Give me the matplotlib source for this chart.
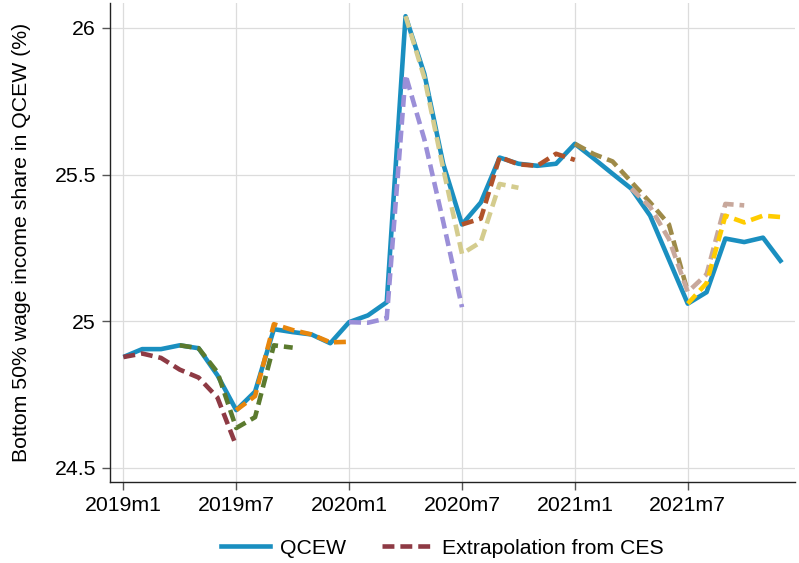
import matplotlib
matplotlib.use("Agg")
import matplotlib.pyplot as plt
from matplotlib.lines import Line2D

plt.rcParams["font.family"] = ["Liberation Sans", "DejaVu Sans"]

TICK_MONTHS = [0, 6, 12, 18, 24, 30]
TICK_LABELS = ["2019m1", "2019m7", "2020m1", "2020m7", "2021m1", "2021m7"]
Y_TICKS = [24.5, 25, 25.5, 26]
Y_TICK_LABELS = ["24.5", "25", "25.5", "26"]

# monthly QCEW series, 2019m1 .. 2021m12
qcew = [
    24.878, 24.905, 24.905, 24.918, 24.908, 24.816,
    24.697, 24.760, 24.973, 24.963, 24.955, 24.925,
    24.997, 25.020, 25.065, 26.040, 25.843, 25.537,
    25.330, 25.405, 25.558, 25.537, 25.530, 25.537,
    25.605, 25.555, 25.503, 25.452, 25.360, 25.210,
    25.060, 25.099, 25.282, 25.270, 25.285, 25.200,
]

# extrapolations from CES: (start month index, values, colour)
ext_starts = [0, 3, 6, 12, 15, 18, 24, 27, 30]
ext_values = [
    [24.878, 24.890, 24.875, 24.835, 24.808, 24.740, 24.575],
    [24.918, 24.908, 24.826, 24.636, 24.673, 24.918, 24.910],
    [24.697, 24.745, 24.990, 24.970, 24.955, 24.928, 24.930],
    [24.997, 24.995, 25.010, 25.840, 25.620, 25.340, 25.048],
    [26.040, 25.830, 25.520, 25.230, 25.270, 25.468, 25.455],
    [25.330, 25.350, 25.560, 25.535, 25.530, 25.571, 25.550],
    [25.605, 25.570, 25.545, 25.475, 25.405, 25.330, 25.100],
    [25.452, 25.390, 25.280, 25.100, 25.160, 25.400, 25.395],
    [25.060, 25.130, 25.360, 25.337, 25.360, 25.355],
]
ext_colors = [
    "#8E3A44", "#5B7A2E", "#E8860C", "#9B8FD8", "#D4CC8E",
    "#B0522A", "#9E8A48", "#C8A89C", "#FFCC00",
]

QCEW_COLOR = "#1A8FC0"
GRID_COLOR = "#DCDCDC"
DASH = (0, (2.6, 1.3))
LW = 3.3
FS = 15.3

fig = plt.figure(figsize=(7.99, 5.63), dpi=100)
ax = fig.add_axes([110 / 799, 1 - 482 / 563, 685 / 799, 479 / 563])

months = list(range(len(qcew)))
ax.plot(months, qcew, color=QCEW_COLOR, linewidth=LW, solid_capstyle="butt", zorder=3)

for start, vals, col in zip(ext_starts, ext_values, ext_colors):
    xs = list(range(start, start + len(vals)))
    ax.plot(xs, vals, color=col, linewidth=LW, linestyle=DASH,
            dash_capstyle="butt", zorder=4)

ax.set_xlim(-0.71, 35.7)
ax.set_ylim(24.452, 26.085)

ax.set_xticks(TICK_MONTHS)
ax.set_xticklabels(TICK_LABELS, fontsize=FS)
ax.set_yticks(Y_TICKS)
ax.set_yticklabels(Y_TICK_LABELS, fontsize=FS)
ax.tick_params(axis="both", direction="out", length=6, width=1.0, color="#555555", pad=4)
ax.grid(True, color=GRID_COLOR, linewidth=0.9, zorder=0)
ax.set_axisbelow(True)

for side in ["top", "right"]:
    ax.spines[side].set_visible(False)
for side in ["left", "bottom"]:
    ax.spines[side].set_linewidth(1.0)
    ax.spines[side].set_color("#222222")

ax.set_ylabel("Bottom 50% wage income share in QCEW (%)", fontsize=FS, labelpad=17)

handles = [
    Line2D([], [], color=QCEW_COLOR, linewidth=LW),
    Line2D([], [], color=ext_colors[0], linewidth=LW, linestyle=DASH),
]
fig.legend(handles, ["QCEW", "Extrapolation from CES"], loc="center",
           bbox_to_anchor=(442 / 799, 1 - 548 / 563), ncol=2, frameon=False,
           fontsize=FS, handlelength=2.3, handletextpad=0.5, columnspacing=1.7)

fig.savefig("out.png", dpi=100)
